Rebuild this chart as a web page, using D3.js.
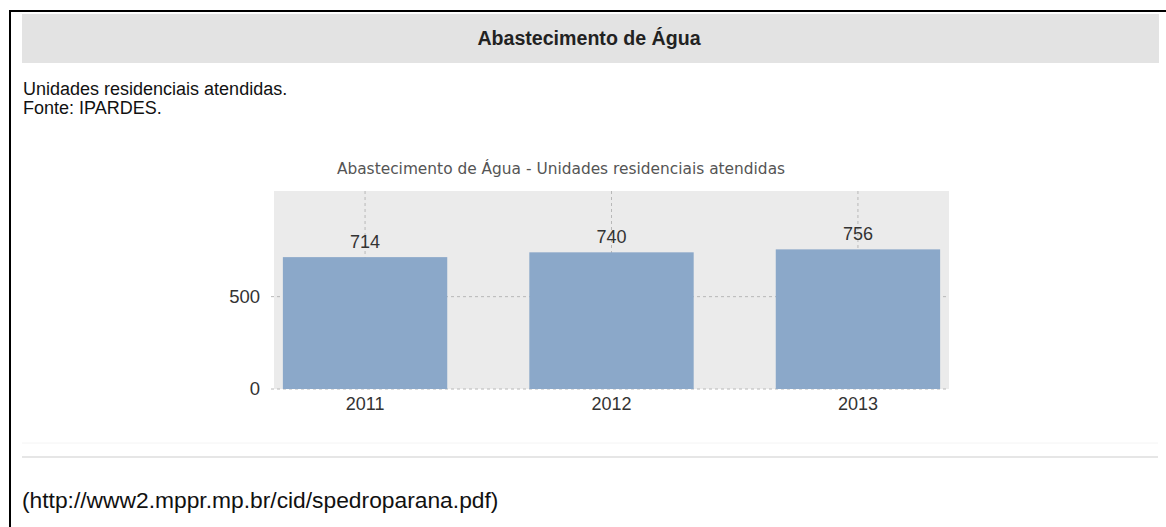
<!DOCTYPE html>
<html>
<head>
<meta charset="utf-8">
<script src="https://cdn.jsdelivr.net/npm/d3@7"></script>
<style>
  html,body{margin:0;padding:0;background:#fff;}
  svg{display:block;}
  .sans{font-family:'Liberation Sans',Arial,sans-serif;}
</style>
</head>
<body>
<div id="chart"></div>
<script>
// data
const years = ['2011','2012','2013'];
const units = [714, 740, 756];
const yTicks = [0, 500];
const yMax = 1072;   // top of the plotted range

const W=1166, H=527;
const P={l:274, r:949, t:191, b:389};   // plot area

const svg=d3.select('#chart').append('svg').attr('width',W).attr('height',H);

/* ---------- page frame ---------- */
svg.append('line').attr('x1',9).attr('x2',W).attr('y1',11).attr('y2',11).attr('stroke','#000').attr('stroke-width',2);
svg.append('line').attr('x1',10).attr('x2',10).attr('y1',10).attr('y2',H).attr('stroke','#000').attr('stroke-width',2);
svg.append('rect').attr('x',22).attr('y',14).attr('width',1137).attr('height',49).attr('fill','#e3e3e3');
svg.append('text').attr('class','sans').attr('x',589).attr('y',45).attr('text-anchor','middle')
  .attr('font-size',19.6).attr('font-weight','bold').attr('fill','#222').text('Abastecimento de Água');
svg.append('text').attr('class','sans').attr('x',23).attr('y',95).attr('font-size',18).attr('fill','#111')
  .text('Unidades residenciais atendidas.');
svg.append('text').attr('class','sans').attr('x',23).attr('y',114).attr('font-size',18).attr('fill','#111')
  .text('Fonte: IPARDES.');

/* ---------- chart ---------- */
const x=d3.scaleBand().domain(years).range([P.l,P.r]).paddingInner(0.333).paddingOuter(0.036);
const y=d3.scaleLinear().domain([0,yMax]).range([P.b,P.t]);

svg.append('text').attr('x',561).attr('y',174).attr('text-anchor','middle')
  .style('font-family',"'DejaVu Sans',Verdana,sans-serif").attr('font-size',15.4).attr('fill','#555')
  .text('Abastecimento de Água - Unidades residenciais atendidas');

svg.append('rect').attr('x',P.l).attr('y',P.t).attr('width',P.r-P.l).attr('height',P.b-P.t).attr('fill','#ebebeb');

const grid=svg.append('g').attr('stroke','#b8b8b8').attr('stroke-dasharray','3 3').attr('stroke-width',1);
grid.selectAll('line.v').data(years).join('line').attr('class','v')
  .attr('x1',d=>x(d)+x.bandwidth()/2).attr('x2',d=>x(d)+x.bandwidth()/2)
  .attr('y1',P.t).attr('y2',P.b);
grid.selectAll('line.h').data(yTicks).join('line').attr('class','h')
  .attr('x1',P.l-3).attr('x2',P.r).attr('y1',d=>y(d)).attr('y2',d=>y(d));

svg.append('g').selectAll('rect').data(units).join('rect')
  .attr('x',(d,i)=>x(years[i])).attr('width',x.bandwidth())
  .attr('y',d=>y(d)).attr('height',d=>y(0)-y(d))
  .attr('fill','#8ba8c9');

svg.append('g').selectAll('text').data(units).join('text').attr('class','sans')
  .attr('x',(d,i)=>x(years[i])+x.bandwidth()/2).attr('y',d=>y(d)-9)
  .attr('text-anchor','middle').attr('font-size',18).attr('fill','#333').text(d=>d);

// axes
const gx=svg.append('g').attr('transform',`translate(0,${P.b})`)
  .call(d3.axisBottom(x).tickSize(0).tickPadding(8));
gx.select('.domain').remove();
gx.selectAll('text').attr('font-size',18).attr('fill','#333').style('font-family',"'Liberation Sans',Arial,sans-serif");

const gy=svg.append('g').attr('transform',`translate(${P.l},0)`)
  .call(d3.axisLeft(y).tickValues(yTicks).tickSize(0).tickPadding(14));
gy.select('.domain').remove();
gy.selectAll('text').attr('font-size',18.5).attr('fill','#333').style('font-family',"'Liberation Sans',Arial,sans-serif");

/* ---------- footer ---------- */
svg.append('line').attr('x1',22).attr('x2',1158).attr('y1',443).attr('y2',443).attr('stroke','#f4f4f4').attr('stroke-width',1);
svg.append('line').attr('x1',22).attr('x2',1158).attr('y1',457).attr('y2',457).attr('stroke','#e6e6e6').attr('stroke-width',2);
svg.append('text').attr('class','sans').attr('x',22).attr('y',508).attr('font-size',22.8).attr('fill','#111')
  .text('(http://www2.mppr.mp.br/cid/spedroparana.pdf)');
</script>
</body>
</html>
